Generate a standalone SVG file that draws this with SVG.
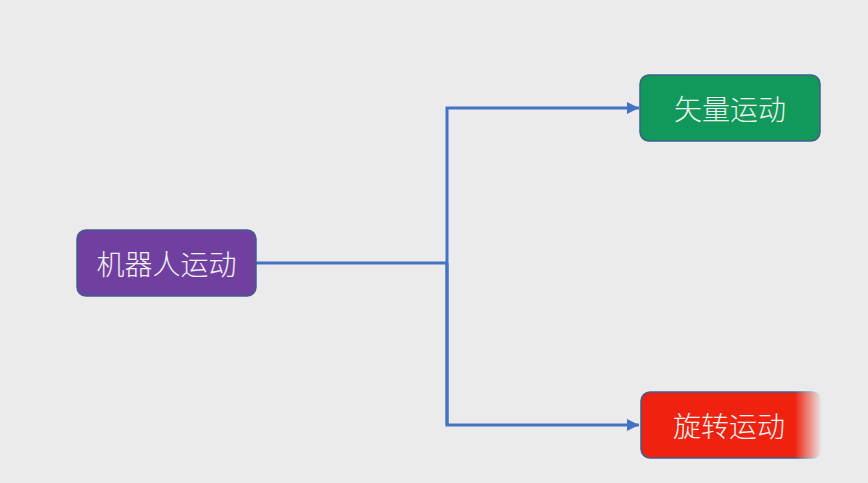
<svg xmlns="http://www.w3.org/2000/svg" width="868" height="483" viewBox="0 0 868 483">
<style>
.box{stroke:#3f5f8a;stroke-width:1.5}
.lbl{font-family:"Noto Sans CJK SC","Noto Sans",sans-serif;font-size:28px;font-weight:300;fill:#f2f2f2;text-anchor:middle;dominant-baseline:central}
.conn{fill:none;stroke:#4472c4;stroke-width:3}
</style>
<defs>
<marker id="arr" viewBox="0 0 10 10" refX="10" refY="5" markerWidth="4" markerHeight="4" orient="auto" markerUnits="strokeWidth">
<path d="M0,0 L10,5 L0,10 z" fill="#4472c4"/>
</marker>
<linearGradient id="fadeG" gradientUnits="userSpaceOnUse" x1="795" y1="0" x2="822" y2="0">
<stop offset="0" stop-color="#fff"/>
<stop offset="1" stop-color="#000"/>
</linearGradient>
<mask id="fadeM" maskUnits="userSpaceOnUse" x="630" y="380" width="210" height="90">
<rect x="630" y="380" width="210" height="90" fill="url(#fadeG)"/>
</mask>
</defs>
<rect width="868" height="483" fill="#ebebeb"/>
<g id="connectors">
<path class="conn" d="M256,263 H447"/>
<path class="conn" d="M447,425 V108 H639" marker-end="url(#arr)"/>
<path class="conn" d="M447,263 V425 H639" marker-end="url(#arr)"/>
</g>
<g id="node-robot">
<rect class="box" x="77" y="230" width="179" height="66" rx="9" fill="#7040a0"/>
<text class="lbl" x="166.5" y="263">机器人运动</text>
</g>
<g id="node-vector">
<rect class="box" x="640" y="75" width="180" height="66" rx="9" fill="#10995a"/>
<text class="lbl" x="730" y="108">矢量运动</text>
</g>
<g id="node-rotate">
<rect class="box" x="641" y="392" width="180" height="66" rx="9" fill="#ef2210" mask="url(#fadeM)"/>
<text class="lbl" x="729" y="425">旋转运动</text>
</g>
</svg>
